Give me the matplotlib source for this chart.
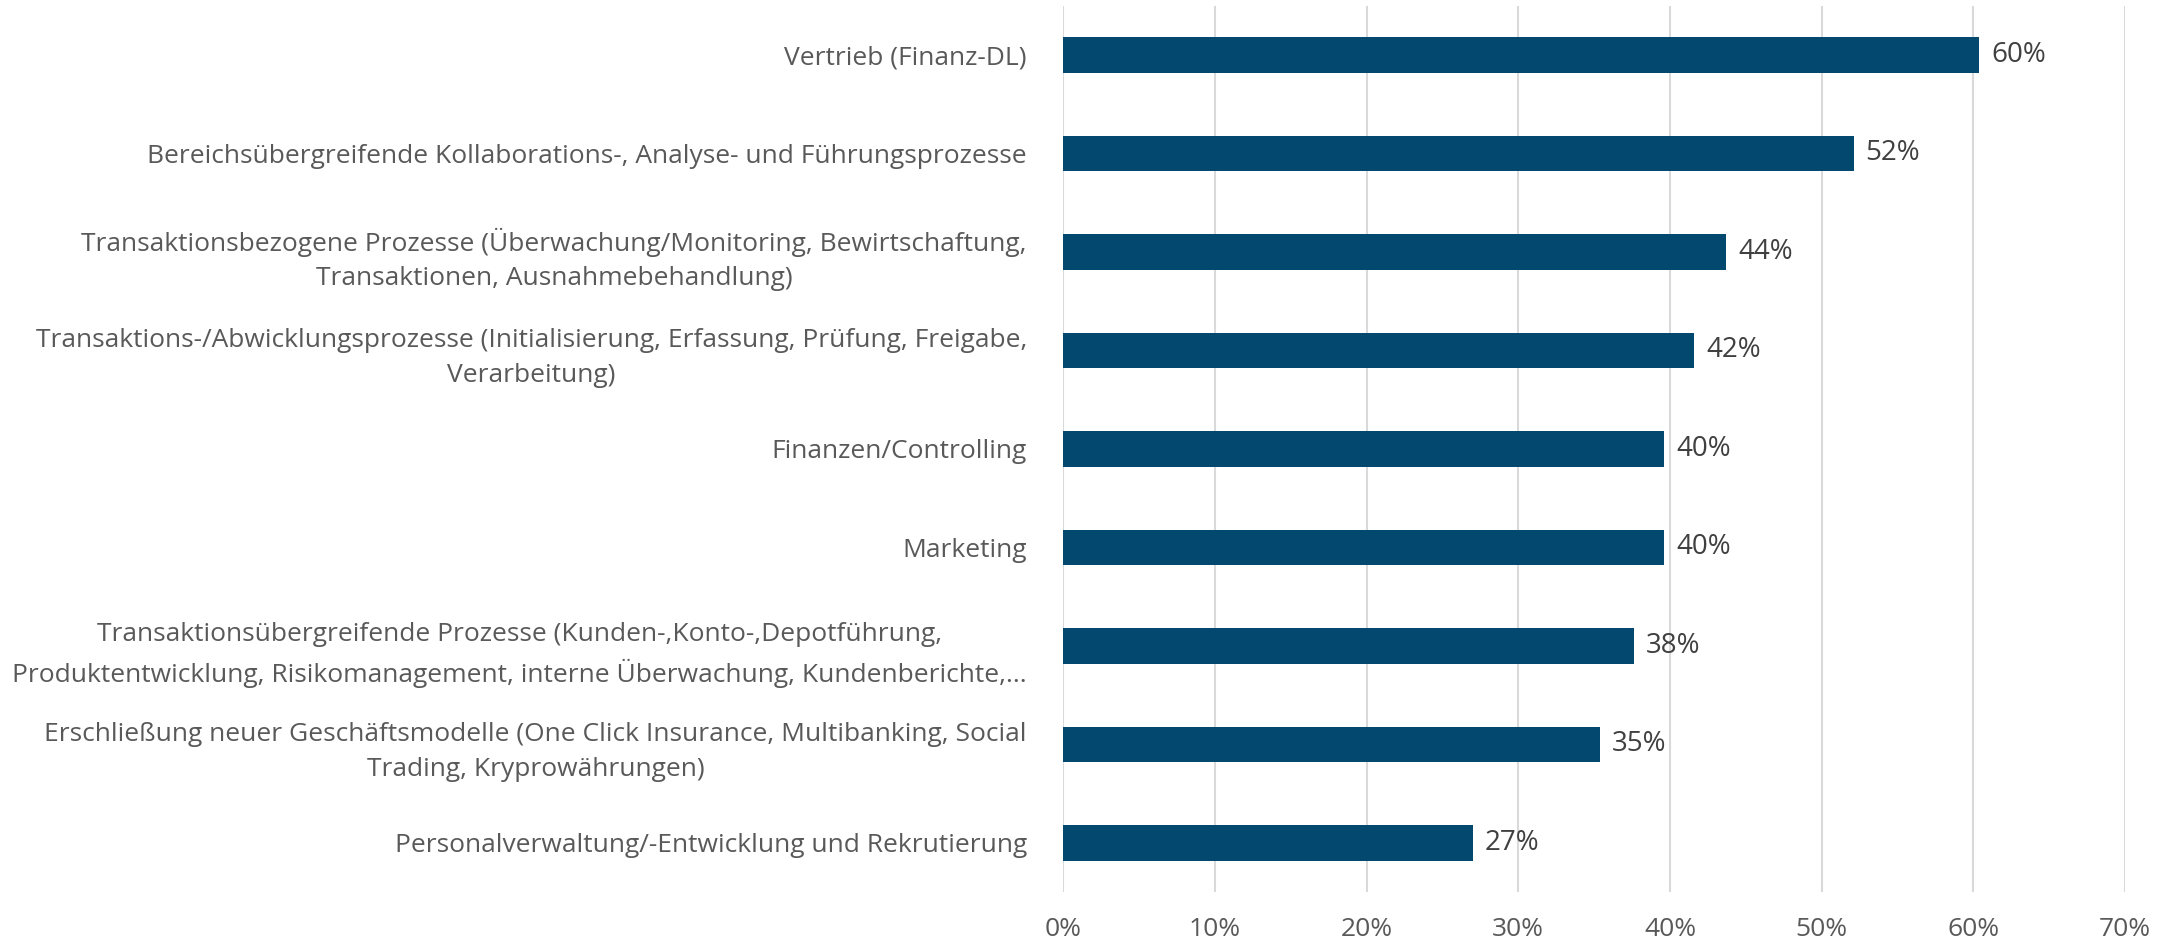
import matplotlib
matplotlib.use("Agg")
import matplotlib.pyplot as plt
from matplotlib.ticker import PercentFormatter

CATEGORIES = [
    "Vertrieb (Finanz-DL)",
    "Bereichsübergreifende Kollaborations-, Analyse- und Führungsprozesse",
    "Transaktionsbezogene Prozesse (Überwachung/Monitoring, Bewirtschaftung,\nTransaktionen, Ausnahmebehandlung)",
    "Transaktions-/Abwicklungsprozesse (Initialisierung, Erfassung, Prüfung, Freigabe,\nVerarbeitung)",
    "Finanzen/Controlling",
    "Marketing",
    "Transaktionsübergreifende Prozesse (Kunden-,Konto-,Depotführung,\nProduktentwicklung, Risikomanagement, interne Überwachung, Kundenberichte,...",
    "Erschließung neuer Geschäftsmodelle (One Click Insurance, Multibanking, Social\nTrading, Kryprowährungen)",
    "Personalverwaltung/-Entwicklung und Rekrutierung",
]
VALUES = [60.4, 52.1, 43.7, 41.6, 39.6, 39.6, 37.6, 35.4, 27.0]
XTICKS = [0, 10, 20, 30, 40, 50, 60, 70]

BAR = "#03496f"
TEXT = "#595959"
GRID = "#d9d9d9"

plt.rcParams["font.family"] = ["Open Sans", "DejaVu Sans"]

fig = plt.figure(figsize=(21.74, 9.46), dpi=100)
ax = fig.add_axes([0.489, 0.057, 0.4885, 0.937])

ypos = range(len(CATEGORIES))
ax.barh(ypos, VALUES, height=0.36, color=BAR, zorder=3)
for y, v in zip(ypos, VALUES):
    ax.text(v + 0.8, y, f"{v:.0f}%", va="center", ha="left",
            fontsize=20, color="#404040")

ax.set_xlim(0, 70)
ax.set_ylim(len(CATEGORIES) - 0.5, -0.5)
ax.set_xticks(XTICKS)
ax.xaxis.set_major_formatter(PercentFormatter(decimals=0))
ax.set_yticks(list(ypos))
ax.set_yticklabels(CATEGORIES, multialignment="center", linespacing=1.5)
ax.tick_params(axis="both", length=0, labelsize=19, labelcolor=TEXT)
ax.tick_params(axis="y", pad=26)
ax.tick_params(axis="x", pad=18)
ax.grid(axis="x", color=GRID, linewidth=1.5, zorder=0)
for s in ax.spines.values():
    s.set_visible(False)

fig.savefig("out.png", dpi=100)
